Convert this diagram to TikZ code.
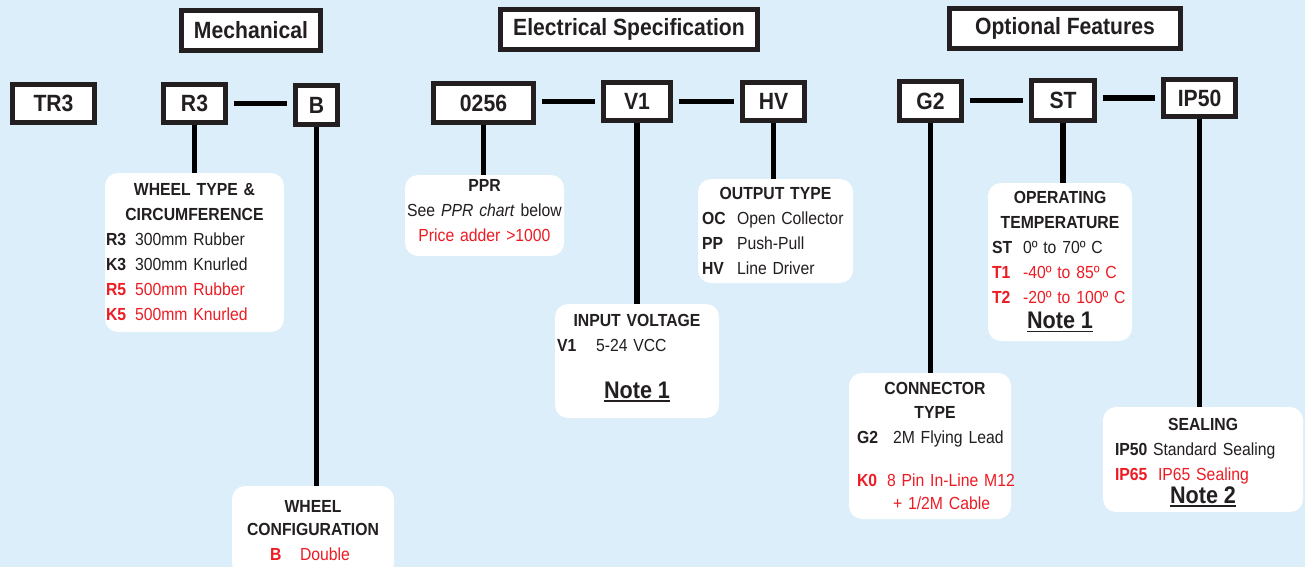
\documentclass[tikz,border=0pt]{standalone}
\usepackage{fontspec}
\setmainfont{Liberation Sans}[FakeStretch=0.9]
\definecolor{skyback}{RGB}{219,238,250}
\definecolor{ink}{RGB}{35,31,32}
\definecolor{specred}{RGB}{237,28,36}
\newcommand{\ctr}[1]{\makebox[\hsize]{#1}}
\newcommand{\ttl}[1]{\ctr{\bfseries #1}}
\newcommand{\spec}[4]{\mbox{\hspace*{#1}\makebox[#2][l]{\bfseries #3}#4}}
\newcommand{\redspec}[4]{{\color{specred}\spec{#1}{#2}{#3}{#4}}}
\newcommand{\notelbl}[1]{{\fontsize{24}{25}\selectfont\bfseries\setbox0\hbox{#1}\rlap{\rule[-3.5pt]{\wd0}{1.8pt}}\box0}}
\begin{document}
\begin{tikzpicture}[
  x=1pt, y=-1pt,
  headbox/.style={draw=ink, line width=5pt, fill=white, inner sep=0pt, text=ink, font=\fontsize{23.5}{28}\selectfont\bfseries},
  codebox/.style={headbox},
  infobox/.style={fill=white, rounded corners=13pt, inner xsep=0pt, inner ysep=0pt, align=left, text=ink, font=\fontsize{17.5}{25}\selectfont},
  link/.style={draw=black, line width=5.5pt},
  gap/.style={shorten <=6pt, shorten >=6pt}
]
\clip (0,0) rectangle (1305,567);
\fill[skyback] (0,0) rectangle (1305,567);

\node[headbox, minimum width=139pt, minimum height=40pt] (mech) at (251,30.5) {Mechanical};
\node[headbox, minimum width=257pt, minimum height=40pt] (elec) at (629,29.5) {Electrical Specification};
\node[headbox, minimum width=231pt, minimum height=40pt] (opt) at (1065,28.5) {Optional Features};

\node[codebox, minimum width=82pt, minimum height=38pt] (tr3) at (53.5,103.5) {TR3};
\node[codebox, minimum width=62pt, minimum height=38pt] (r3) at (194.5,103.5) {R3};
\node[codebox, minimum width=42pt, minimum height=39pt] (b) at (316.5,105) {B};
\node[codebox, minimum width=100pt, minimum height=39pt] (n0256) at (483.5,103) {0256};
\node[codebox, minimum width=67pt, minimum height=38pt] (v1) at (637,101.5) {V1};
\node[codebox, minimum width=62pt, minimum height=38pt] (hv) at (773.5,101.5) {HV};
\node[codebox, minimum width=62pt, minimum height=39pt] (g2) at (930.5,101) {G2};
\node[codebox, minimum width=63pt, minimum height=40pt] (st) at (1063,100.5) {ST};
\node[codebox, minimum width=72pt, minimum height=37pt] (ip50) at (1199.5,98) {IP50};

\node[infobox, text width=179pt, minimum height=159pt] (wtype) at (194.5,252.5) {%
\ttl{WHEEL TYPE \&}\\
\ttl{CIRCUMFERENCE}\\
\spec{1pt}{29pt}{R3}{300mm Rubber}\\
\spec{1pt}{29pt}{K3}{300mm Knurled}\\
\redspec{1pt}{29pt}{R5}{500mm Rubber}\\
\redspec{1pt}{29pt}{K5}{500mm Knurled}};
\node[infobox, text width=162pt, minimum height=90pt] (wcfg) at (313,531) {%
\ttl{WHEEL}\\[-2pt]
\ttl{CONFIGURATION}\\
\redspec{38pt}{30pt}{B}{Double}};
\node[infobox, text width=159pt, minimum height=81pt] (ppr) at (484.5,215.5) {%
\ttl{PPR}\\
\ctr{See \textit{PPR chart} below}\\
\ctr{\color{specred}Price adder >1000}\rule[-10pt]{0pt}{0pt}};
\node[infobox, text width=164pt, minimum height=114pt] (inpv) at (637,361) {%
\ttl{INPUT VOLTAGE}\\
\spec{2pt}{39pt}{V1}{5-24 VCC}\\[22pt]
\ctr{\notelbl{Note 1}}\rule[-10pt]{0pt}{0pt}};
\node[infobox, text width=155pt, minimum height=104pt] (outp) at (775.5,231) {%
\ttl{OUTPUT TYPE}\\
\spec{4pt}{35pt}{OC}{Open Collector}\\
\spec{4pt}{35pt}{PP}{Push-Pull}\\
\spec{4pt}{35pt}{HV}{Line Driver}};
\node[infobox, text width=162pt, minimum height=146pt] (conn) at (930,446) {%
\hspace*{5pt}\ttl{CONNECTOR}\\[-1pt]
\hspace*{5pt}\ttl{TYPE}\\
\spec{8pt}{36pt}{G2}{2M Flying Lead}\\[18pt]
\redspec{8pt}{30pt}{K0}{8 Pin In-Line M12}\\[-2pt]
{\color{specred}\hspace*{44pt}+ 1/2M Cable}};
\node[infobox, text width=144pt, minimum height=158pt] (temp) at (1060,262) {%
\ttl{OPERATING}\\
\ttl{TEMPERATURE}\\
\spec{4pt}{31pt}{ST}{0º to 70º C}\\
\redspec{4pt}{31pt}{T1}{-40º to 85º C}\\
\redspec{4pt}{31pt}{T2}{-20º to 100º C}\\
\ctr{\notelbl{Note 1}}};
\node[infobox, text width=200pt, minimum height=105pt] (seal) at (1203,459.5) {%
\ttl{SEALING}\rule{0pt}{18pt}\\
\spec{12pt}{38pt}{IP50}{Standard Sealing}\\
\redspec{12pt}{43pt}{IP65}{IP65 Sealing}\\[-2pt]
\ctr{\notelbl{Note 2}}};

\draw[link, gap] (r3.east) -- (r3.east -| b.west);
\draw[link, gap] (n0256.east |- v1.west) -- (v1.west);
\draw[link, gap] (v1.east) -- (hv.west);
\draw[link, gap] (g2.east |- st.west) -- (st.west);
\draw[link, gap] (st.east |- ip50.west) -- (ip50.west);
\draw[link] (r3.south) -- (r3.south |- wtype.north);
\draw[link] (b.south) -- (b.south |- wcfg.north);
\draw[link] (n0256.south) -- (n0256.south |- ppr.north);
\draw[link] (v1.south) -- (v1.south |- inpv.north);
\draw[link] (hv.south) -- (hv.south |- outp.north);
\draw[link] (g2.south) -- (g2.south |- conn.north);
\draw[link] (st.south) -- (st.south |- temp.north);
\draw[link] (ip50.south) -- (ip50.south |- seal.north);
\end{tikzpicture}
\end{document}
